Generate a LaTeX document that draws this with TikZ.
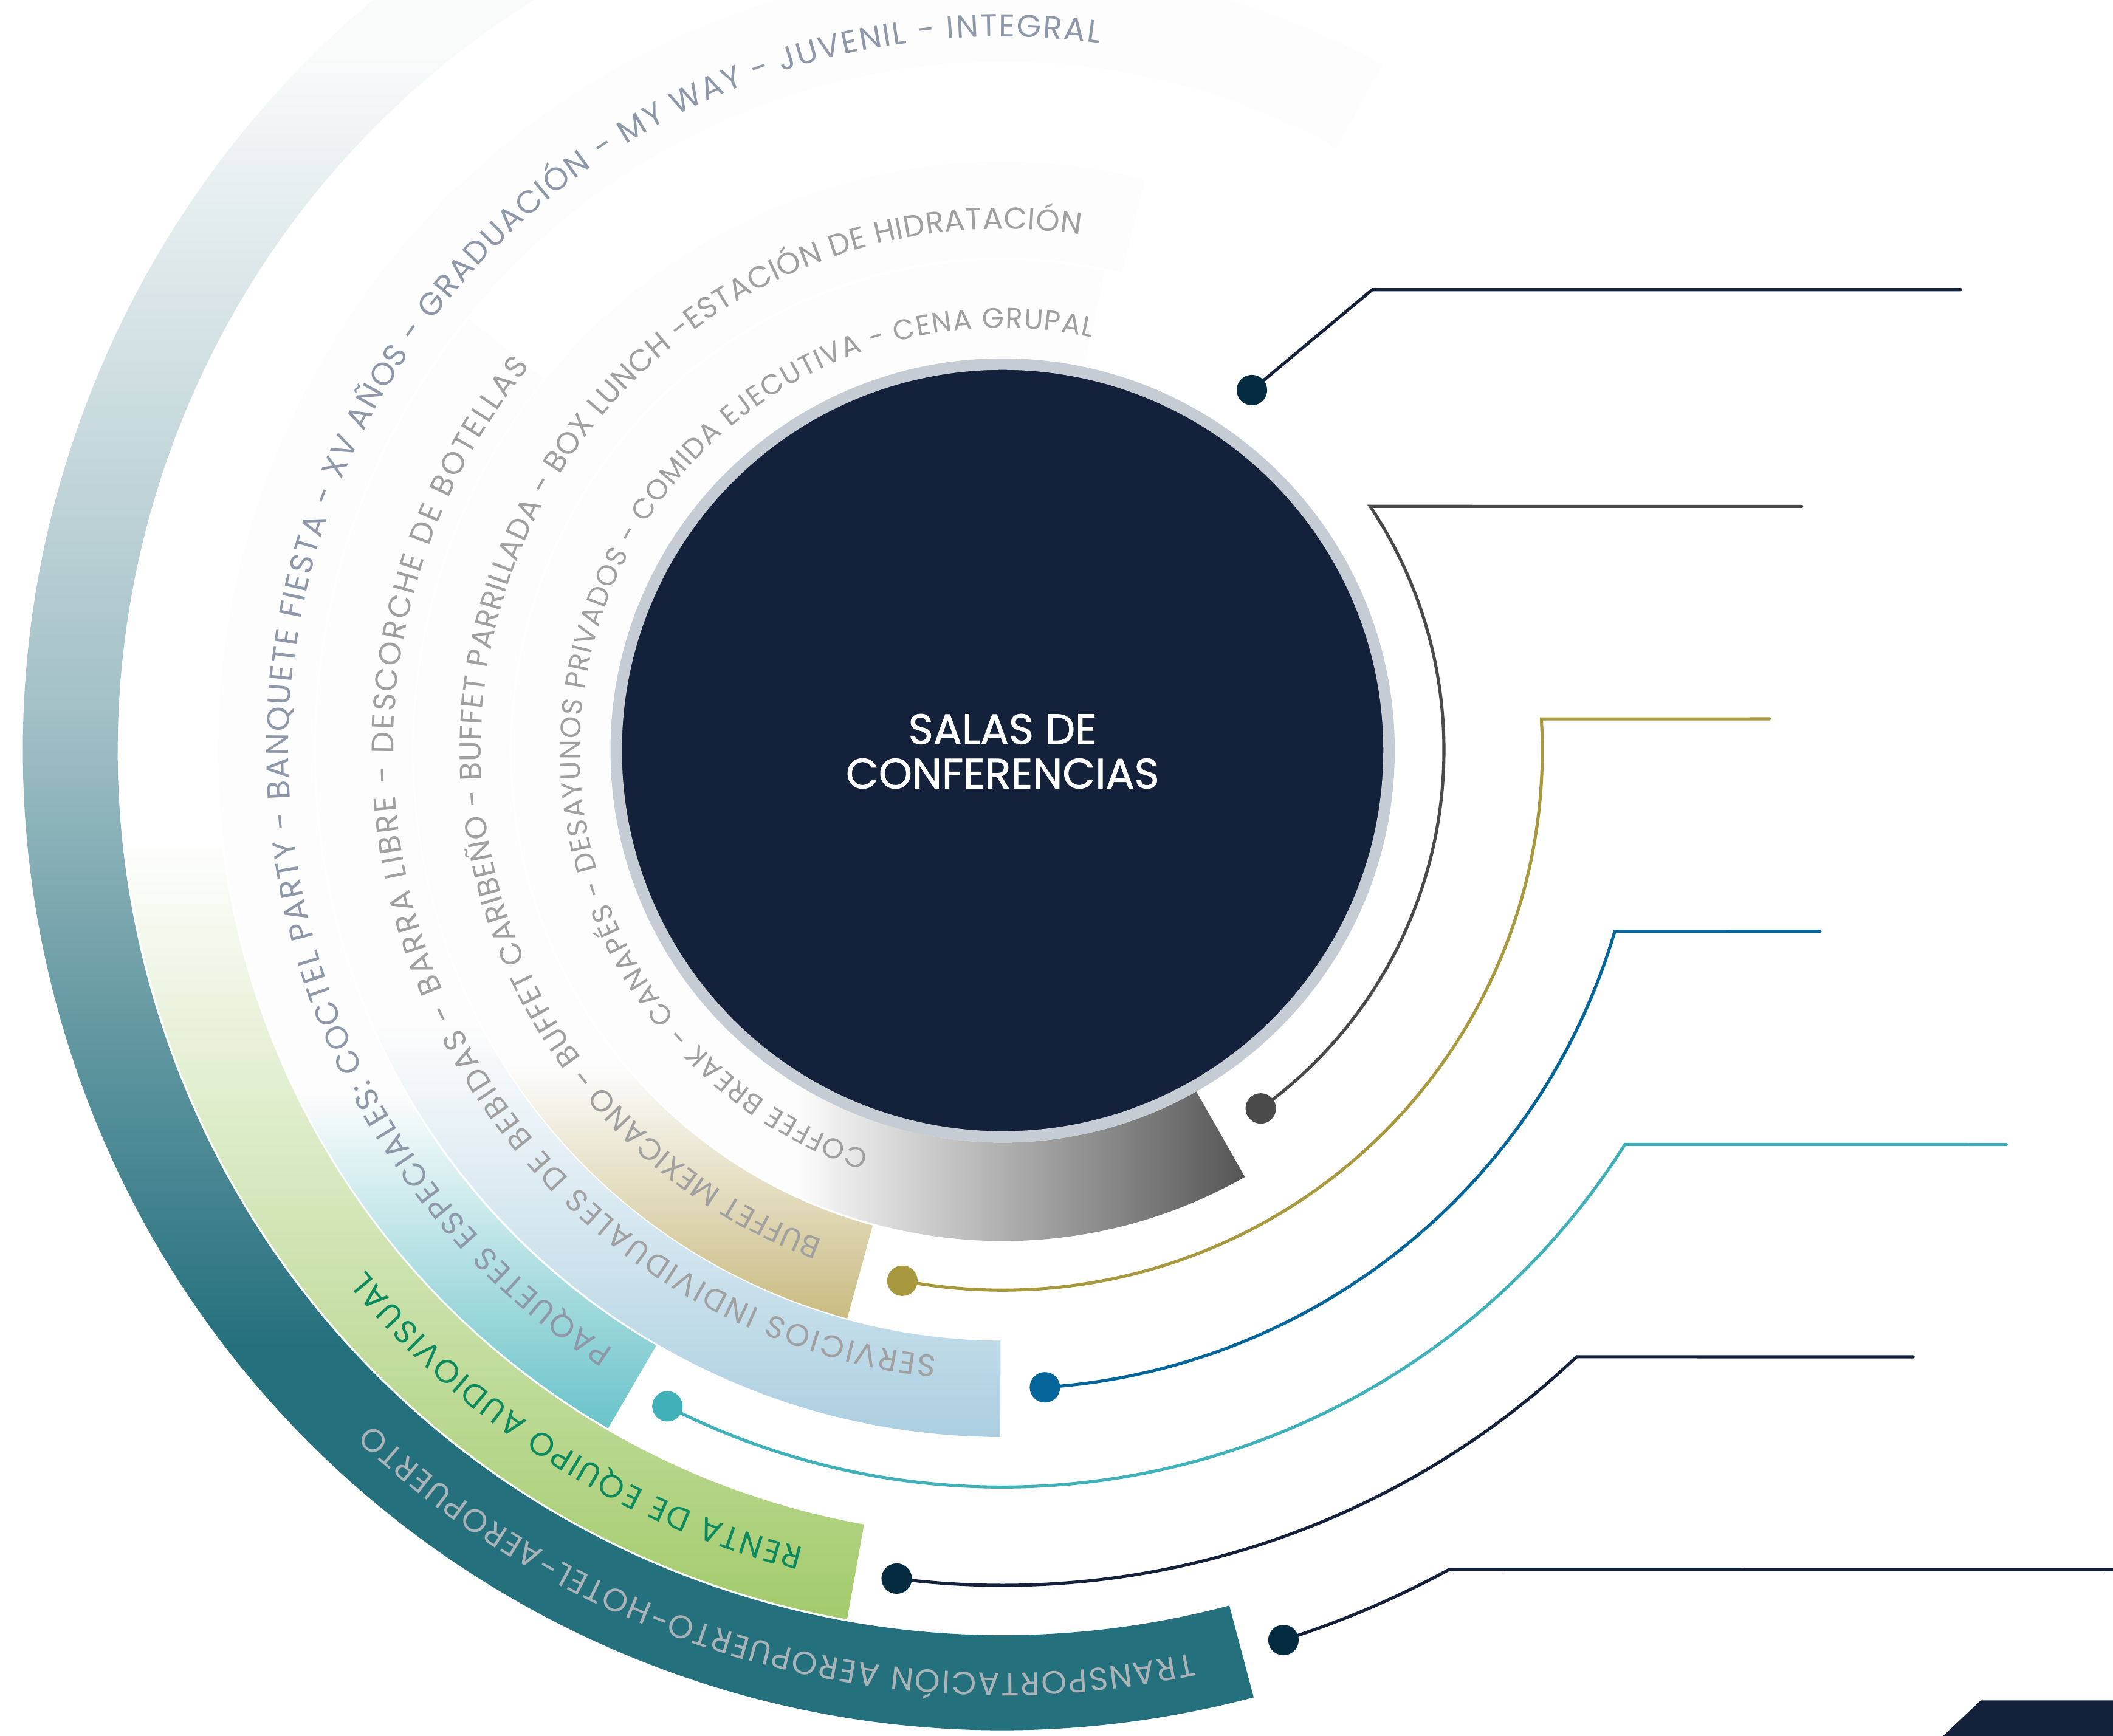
\documentclass[tikz,border=0pt]{standalone}
\usepackage{fontspec}
\setmainfont{Poppins}
\newfontfamily\hubfont{Poppins}[FakeBold=1.2]
\usetikzlibrary{decorations.text}
\definecolor{navy}{HTML}{13223A}
\definecolor{ringgray}{HTML}{C5CCD4}
\definecolor{dotnavy}{HTML}{042B3F}
\definecolor{linenavy}{HTML}{14213A}
\definecolor{cgray}{HTML}{4A4A4A}
\definecolor{cgold}{HTML}{A8983E}
\definecolor{cblue}{HTML}{036599}
\definecolor{ccyan}{HTML}{40B0B9}
\definecolor{faint}{HTML}{FDFDFD}
\definecolor{bandgray}{HTML}{555555}
\definecolor{bandbeige}{HTML}{C9BB80}
\definecolor{bandblue}{HTML}{ABCFE1}
\definecolor{bandcyan}{HTML}{68C3C9}
\definecolor{bandgreen}{HTML}{A3CB6C}
\definecolor{tealtop}{HTML}{F9FBFB}
\definecolor{tealmid}{HTML}{A2C0C6}
\definecolor{tealdark}{HTML}{24707D}
\definecolor{txtgray}{HTML}{A0A0A0}
\definecolor{txtblue}{HTML}{8E98A9}
\definecolor{txtgreen}{HTML}{0C8A5E}
\definecolor{txtlight}{HTML}{AAB3B7}
\pgfdeclarelayer{bg}
\pgfsetlayers{bg,main}
% #1 inner radius, #2 outer radius, #3 visible end angle, #4 faded start angle
\newcommand\bandclip[4]{\clip ([shift={(744,-557)}]#3:#2pt) arc[start angle=#3,end angle=#4,radius=#2pt] -- ([shift={(744,-557)}]#4:#1pt) arc[start angle=#4,end angle=#3,radius=#1pt] -- cycle;}
% #1 baseline radius, #2 start angle, #3 end angle, #4 font size, #5 colour, #6 text
\newcommand\arctext[6]{\path[decorate,decoration={text along path,text align=fit to path,text color=#5,text={|\fontsize{#4}{#4}\selectfont|#6}}] ([shift={(744,-557)}]#2:#1pt) arc[start angle=#2,end angle=#3,radius=#1pt];}
\begin{document}
\begin{tikzpicture}[x=1pt,y=1pt,
  cdot/.style={circle,inner sep=0pt,minimum size=22.6pt},
  conn/.style={line width=2.3pt,line cap=round}]
\useasboundingbox (0,-1288) rectangle (1568,0);
% hub
\node[circle,fill=navy,draw=ringgray,line width=8.5pt,minimum size=573.5pt,inner sep=0pt] (hub) at (744,-557) {};
\node[text=white,align=center,inner sep=0pt,font=\hubfont\fontsize{31.5}{33}\selectfont] (title) at (744,-562)
  {\begin{tabular}{@{}c@{}}SALAS DE\\CONFERENCIAS\end{tabular}};
% dots
\node[cdot,fill=dotnavy] (d1) at (929,-289.5) {};
\node[cdot,fill=cgray] (d2) at ([shift={(744,-557)}]-54.2:327.5pt) {};
\node[cdot,fill=cgold] (d3) at ([shift={(744,-557)}]-100.7:400.5pt) {};
\node[cdot,fill=cblue] (d4) at ([shift={(744,-557)}]-86.2:473.7pt) {};
\node[cdot,fill=ccyan] (d5) at ([shift={(744,-557)}]-117.07:546.6pt) {};
\node[cdot,fill=dotnavy] (d6) at ([shift={(744,-557)}]-97.29:619.6pt) {};
\node[cdot,fill=dotnavy] (d7) at ([shift={(744,-557)}]-72.48:692.3pt) {};
\coordinate (k1) at (1018.3,-215);
\coordinate (e1) at (1455,-215);
\coordinate (e2) at (1337,-375.8);
\coordinate (e3) at (1313,-533.5);
\coordinate (e4) at (1350.6,-691.3);
\coordinate (e5) at (1488.9,-849.4);
\coordinate (e6) at (1419.7,-1007);
\coordinate (e7) at (1570,-1164.8);
\begin{pgfonlayer}{bg}
% gray band
\begin{scope}\bandclip{291}{364}{-60.4}{-282}
 \fill[faint] (0,-1288) rectangle (1568,0);
 \shade[left color=faint,right color=bandgray] (590,-1288) rectangle (925,-557);
\end{scope}
% beige band
\begin{scope}\bandclip{365.5}{437}{-105.3}{-284}
 \fill[faint] (0,-1288) rectangle (1568,0);
 \shade[top color=faint,bottom color=bandbeige] (0,-790) rectangle (1568,-980);
 \fill[bandbeige] (0,-980) rectangle (1568,-1300);
\end{scope}
% light blue band
\begin{scope}\bandclip{438}{509.5}{-90.2}{-219}
 \fill[faint] (0,-1288) rectangle (1568,0);
 \shade[top color=faint,bottom color=bandblue] (0,-760) rectangle (1568,-1066);
 \fill[bandblue] (0,-1066) rectangle (1568,-1300);
\end{scope}
% cyan band
\begin{scope}\bandclip{511}{582}{-120.2}{-299}
 \fill[faint] (0,-1288) rectangle (1568,0);
 \shade[top color=faint,bottom color=bandcyan] (0,-810) rectangle (1568,-1062);
 \fill[bandcyan] (0,-1062) rectangle (1568,-1300);
\end{scope}
% green band
\begin{scope}\bandclip{583.5}{655}{-100.15}{-200}
 \shade[top color=white,bottom color=bandgreen] (0,-620) rectangle (1568,-1202);
 \fill[bandgreen] (0,-1202) rectangle (1568,-1300);
\end{scope}
% teal band
\begin{scope}\bandclip{656.5}{727}{-75.15}{-245}
 \fill[tealtop] (0,40) rectangle (1568,-40);
 \shade[top color=tealtop,bottom color=tealmid] (0,-40) rectangle (1568,-530);
 \shade[top color=tealmid,bottom color=tealdark] (0,-530) rectangle (1568,-1000);
 \fill[tealdark] (0,-1000) rectangle (1568,-1300);
\end{scope}
% connectors
\draw[conn,linenavy] (d1.center) -- (k1) -- (e1);
\draw[conn,cgray] (d2.center) arc[start angle=-54.2,end angle=33.6,radius=327.5pt] -- (e2);
\draw[conn,cgold] (d3.center) arc[start angle=-100.7,end angle=3.36,radius=400.5pt] -- (e3);
\draw[conn,cblue] (d4.center) arc[start angle=-86.2,end angle=-16.47,radius=473.7pt] -- (e4);
\draw[conn,ccyan] (d5.center) arc[start angle=-117.07,end angle=-32.34,radius=546.6pt] -- (e5);
\draw[conn,linenavy] (d6.center) arc[start angle=-97.29,end angle=-46.57,radius=619.6pt] -- (e6);
\draw[conn,linenavy] (d7.center) arc[start angle=-72.48,end angle=-61.38,radius=692.3pt] -- (e7);
\end{pgfonlayer}
% corner shape
\fill[navy] (1469.8,-1262) -- (1570,-1262) -- (1570,-1290) -- (1440.2,-1290) -- cycle;
% arc texts
\arctext{313.6}{-108.4}{-282.2}{21}{txtgray}{COFFEE BREAK - CANAPÉS - DESAYUNOS PRIVADOS - COMIDA EJECUTIVA - CENA GRUPAL}
\arctext{387.1}{-110.2}{-278.55}{22.5}{txtgray}{BUFFET MEXICANO - BUFFET CARIBEÑO - BUFFET PARRILLADA - BOX LUNCH -ESTACIÓN DE HIDRATACIÓN}
\arctext{452}{-96.2}{-219.1}{23}{txtgray}{SERVICIOS INDIVIDUALES DE BEBIDAS - BARRA LIBRE - DESCORCHE DE BOTELLAS}
\arctext{529.8}{-123}{-277.76}{23.5}{txtblue}{PAQUETES ESPECIALES: COCTEL PARTY - BANQUETE FIESTA - XV AÑOS - GRADUACIÓN - MY WAY - JUVENIL - INTEGRAL}
\arctext{610.1}{-104}{-140.75}{24}{txtgreen}{RENTA DE EQUIPO AUDIOVISUAL}
\arctext{684.6}{-78.12}{-133.08}{24}{txtlight}{TRANSPORTACIÓN AEROPUERTO-HOTEL-AEROPUERTO}
\end{tikzpicture}
\end{document}
